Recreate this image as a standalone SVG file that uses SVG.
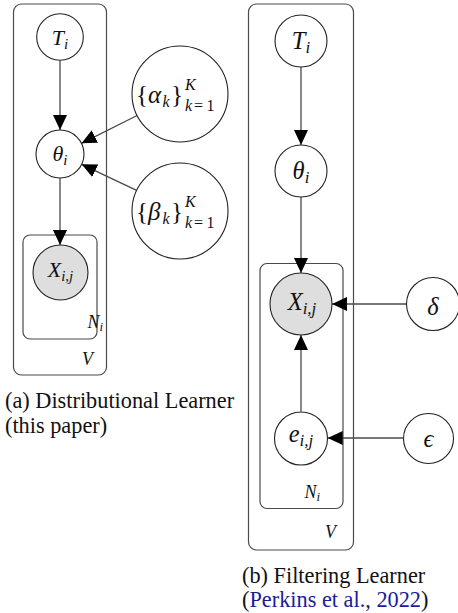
<svg xmlns="http://www.w3.org/2000/svg" width="458" height="613" viewBox="0 0 458 613">
<style>
.plate{fill:none;stroke:#4a4a4a;stroke-width:1.2}
.node{fill:#fff;stroke:#222;stroke-width:1.1}
.obs{fill:#dedede;stroke:#222;stroke-width:1.1}
.edge{fill:none;stroke:#4a4a4a;stroke-width:1.3}
text{font-family:"Liberation Serif","Times New Roman",Tinos,"DejaVu Serif",serif;fill:#111}
.m{font-size:22px;font-style:italic}
.s{font-size:15px}
.mb{font-size:25px;font-style:italic}
.sb{font-size:16px;font-style:italic}
.mr{font-size:24.5px;font-style:italic}
.sr{font-size:17px}
.up{font-style:normal}
.pl{font-size:18px;font-style:italic}
.ps{font-size:13px}
.cap{font-size:22.3px}
.cite{fill:#1c1c96}
</style>
<defs>
<marker id="ah" markerWidth="16" markerHeight="14" refX="15" refY="7" orient="auto" markerUnits="userSpaceOnUse">
<path d="M0,0 L15,7 L0,14 z" fill="#000"/>
</marker>
</defs>

<g id="plates">
<rect class="plate" x="13.5" y="4" width="93" height="371" rx="8"/>
<rect class="plate" x="23" y="235" width="74" height="104" rx="7"/>
<text class="pl" x="87.5" y="328">N<tspan class="ps" dy="3">i</tspan></text>
<text class="pl" x="82" y="365">V</text>
<rect class="plate" x="248.5" y="4" width="105" height="546" rx="8"/>
<rect class="plate" x="260" y="263.5" width="83" height="245" rx="7"/>
<text class="pl" x="304.5" y="498">N<tspan class="ps" dy="3">i</tspan></text>
<text class="pl" x="325" y="538">V</text>
</g>

<g id="connectors">
<path class="edge" d="M60,60.5 L60,130" marker-end="url(#ah)"/>
<path class="edge" d="M60,178 L60,245" marker-end="url(#ah)"/>
<path class="edge" d="M137.1,115.5 L81.5,143.3" marker-end="url(#ah)"/>
<path class="edge" d="M136.6,190.4 L81.7,164.3" marker-end="url(#ah)"/>
<path class="edge" d="M301,67 L301,145" marker-end="url(#ah)"/>
<path class="edge" d="M301,197 L301,273" marker-end="url(#ah)"/>
<path class="edge" d="M406.5,304 L332,304" marker-end="url(#ah)"/>
<path class="edge" d="M301,411.5 L301,335" marker-end="url(#ah)"/>
<path class="edge" d="M403,438 L327.7,438" marker-end="url(#ah)"/>
</g>

<g id="a-T">
<circle class="node" cx="60" cy="37" r="23.3"/>
<text class="m" x="60" y="44.5" text-anchor="middle">T<tspan class="s" dy="4">i</tspan></text>
</g>
<g id="a-theta">
<circle class="node" cx="60" cy="154" r="24"/>
<text class="m" x="60" y="161" text-anchor="middle">θ<tspan class="s" dy="4">i</tspan></text>
</g>
<g id="a-X">
<circle class="obs" cx="60.5" cy="272.5" r="27.5"/>
<text class="m" x="60.5" y="277" text-anchor="middle">X<tspan class="s" dy="4">i,j</tspan></text>
</g>
<g id="a-alpha">
<circle class="node" cx="180" cy="94" r="48"/>
<text class="mb" y="103"><tspan class="up" x="136">{</tspan><tspan x="148">α</tspan><tspan class="sb" x="162.5" y="107">k</tspan><tspan class="up" x="171" y="103">}</tspan></text>
<text class="sb" x="185" y="90">K</text>
<text class="sb" y="111"><tspan x="185">k</tspan><tspan class="up" x="194">=</tspan><tspan class="up" x="206.5">1</tspan></text>
</g>
<g id="a-beta">
<circle class="node" cx="180" cy="211" r="48"/>
<text class="mb" y="220"><tspan class="up" x="136">{</tspan><tspan x="148">β</tspan><tspan class="sb" x="162.5" y="224">k</tspan><tspan class="up" x="171" y="220">}</tspan></text>
<text class="sb" x="185" y="207">K</text>
<text class="sb" y="228"><tspan x="185">k</tspan><tspan class="up" x="194">=</tspan><tspan class="up" x="206.5">1</tspan></text>
</g>

<g id="b-T">
<circle class="node" cx="301" cy="41" r="26"/>
<text class="mr" x="301" y="49" text-anchor="middle">T<tspan class="sr" dy="4">i</tspan></text>
</g>
<g id="b-theta">
<circle class="node" cx="301" cy="171" r="26"/>
<text class="mr" x="301" y="178.5" text-anchor="middle">θ<tspan class="sr" dy="4">i</tspan></text>
</g>
<g id="b-X">
<circle class="obs" cx="301" cy="304" r="31"/>
<text class="mr" x="302" y="310" text-anchor="middle">X<tspan class="sr" dy="4">i,j</tspan></text>
</g>
<g id="b-e">
<circle class="node" cx="301" cy="438.5" r="26.5"/>
<text class="mr" x="301" y="442" text-anchor="middle">e<tspan class="sr" dy="4">i,j</tspan></text>
</g>
<g id="b-delta">
<circle class="node" cx="433" cy="304" r="26.5"/>
<text class="mr" x="433" y="314.5" text-anchor="middle">δ</text>
</g>
<g id="b-eps">
<circle class="node" cx="428.5" cy="438.5" r="25"/>
<text class="mr" x="428.5" y="447" text-anchor="middle">ϵ</text>
</g>

<g id="captions">
<text class="cap" x="5" y="408">(a) Distributional Learner</text>
<text class="cap" x="5" y="433">(this paper)</text>
<text class="cap" x="242" y="583">(b) Filtering Learner</text>
<text class="cap" x="242" y="607">(<tspan class="cite">Perkins et al., 2022</tspan>)</text>
</g>
</svg>
